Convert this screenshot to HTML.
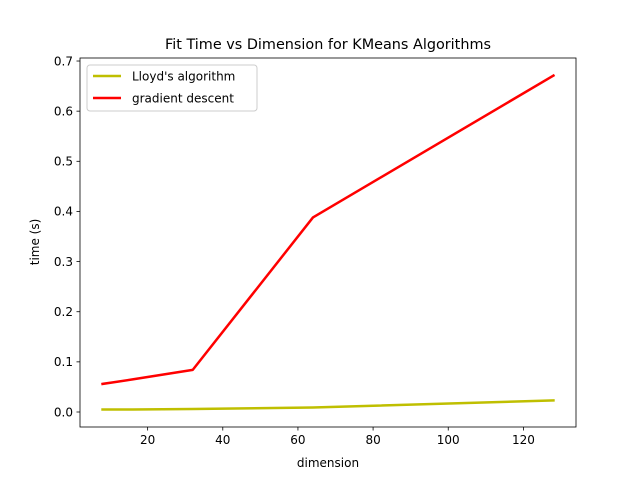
<!DOCTYPE html>
<html><head><meta charset="utf-8"><style>
body{margin:0;background:#fff;}
svg{display:block;font-family:"DejaVu Sans","Liberation Sans",sans-serif;}
</style></head><body>
<svg id="chart" width="640" height="480"></svg>
<script>
const dims = [8, 16, 32, 64, 128];
const lloyd = [0.005, 0.005, 0.006, 0.009, 0.023];
const gd = [0.056, 0.065, 0.084, 0.388, 0.671];
const xTicks = [20, 40, 60, 80, 100, 120];
const yTicks = [0.0, 0.1, 0.2, 0.3, 0.4, 0.5, 0.6, 0.7];

const NS = "http://www.w3.org/2000/svg";
const svg = document.getElementById('chart');
const L = 80, R = 576, T = 58, B = 427;
const xMin = 2, xMax = 134;
const X = v => L + (v - xMin) / (xMax - xMin) * (R - L);
const Y = v => 412 - v * 501.4;
function mk(tag, attrs, parent) {
  const e = document.createElementNS(NS, tag);
  for (const k in attrs) e.setAttribute(k, attrs[k]);
  (parent || svg).appendChild(e);
  return e;
}
let t = mk('text', {x: 328, y: 49, 'text-anchor': 'middle', 'font-size': 14.4, fill: '#000'});
t.textContent = 'Fit Time vs Dimension for KMeans Algorithms';



xTicks.forEach(v => {
  const x = X(v);
  const l = mk('line', {x1: x, x2: x, y1: B, y2: B + 3.5, stroke: '#000', 'stroke-width': 0.8});
  
  
  const tx = mk('text', {x: x, y: B + 17, 'text-anchor': 'middle', 'font-size': 12});
  tx.textContent = v;
  
  
});
yTicks.forEach(v => {
  const y = Y(v);
  const l = mk('line', {x1: L - 3.5, x2: L, y1: y, y2: y, stroke: '#000', 'stroke-width': 0.8});
  
  
  const tx = mk('text', {x: L - 7, y: y + 4.3, 'text-anchor': 'end', 'font-size': 12});
  tx.textContent = v.toFixed(1);
  
  
});
t = mk('text', {x: 328, y: 467, 'text-anchor': 'middle', 'font-size': 12});
t.textContent = 'dimension';


t = mk('text', {x: 0, y: 0, 'text-anchor': 'middle', 'font-size': 12, transform: 'translate(39,242) rotate(-90)'});
t.textContent = 'time (s)';



function line(vals, color, name) {
  const p = mk('polyline', {points: dims.map((d, i) => X(d) + ',' + Y(vals[i])).join(' '), fill: 'none', stroke: color, 'stroke-width': 2.5, 'stroke-linejoin': 'round', 'stroke-linecap': 'square'});
  
  
}
line(lloyd, '#bfbf00', 'lloyd-line');
line(gd, '#ff0000', 'gradient-descent-line');

const frame = mk('rect', {x: L, y: T, width: R - L, height: B - T, fill: 'none', stroke: '#000', 'stroke-width': 0.8});



const g = mk('g', {});


mk('rect', {x: 87, y: 65, width: 170, height: 46, rx: 3, fill: '#fff', 'fill-opacity': 0.8, stroke: '#ccc', 'stroke-width': 1}, g);
[['Lloyd\'s algorithm', '#bfbf00', 76], ['gradient descent', '#ff0000', 98]].forEach(([lab, c, y]) => {
  const ln = mk('line', {x1: 93, x2: 121, y1: y, y2: y, stroke: c, 'stroke-width': 2.5}, g);
  
  
  const tx = mk('text', {x: 132, y: y + 4.3, 'font-size': 12}, g);
  tx.textContent = lab;
  
  
});
</script>
</body></html>
